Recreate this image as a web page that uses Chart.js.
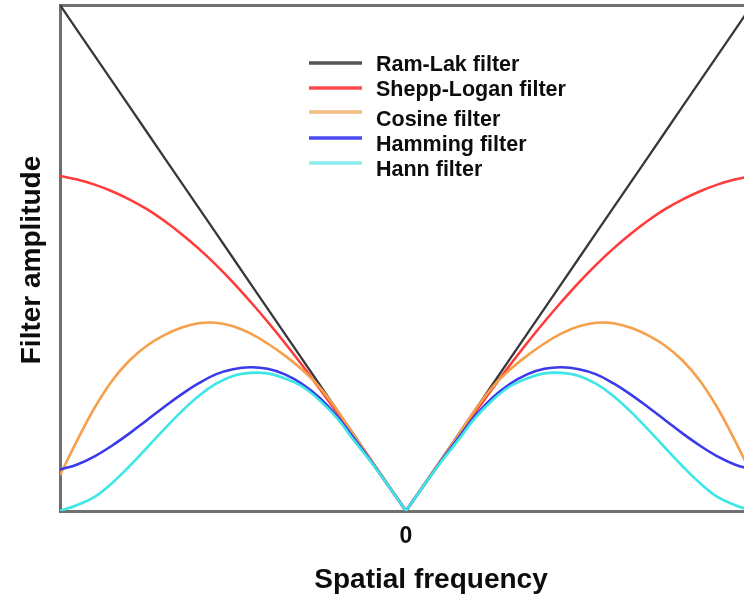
<!DOCTYPE html>
<html><head><meta charset="utf-8">
<script src="https://cdn.jsdelivr.net/npm/chart.js@4/dist/chart.umd.min.js"></script>
<style>
html,body{margin:0;padding:0;background:#fff;overflow:hidden;width:744px;height:601px}
#wrap{position:absolute;left:0;top:0;width:800px;height:601px}
canvas{display:block}
</style>
</head><body><div id="wrap"><canvas id="c" width="800" height="601" style="width:800px;height:601px"></canvas></div>
<script>
// ---- data ----
const frequencies = [-1.00,-0.95,-0.90,-0.85,-0.80,-0.75,-0.70,-0.65,-0.60,-0.55,-0.50,-0.45,-0.40,-0.35,-0.30,-0.25,-0.20,-0.15,-0.10,-0.05,
                     0.00,0.05,0.10,0.15,0.20,0.25,0.30,0.35,0.40,0.45,0.50,0.55,0.60,0.65,0.70,0.75,0.80,0.85,0.90,0.95,1.00];
const ramLak     = [1.000,0.950,0.900,0.850,0.800,0.750,0.700,0.650,0.600,0.550,0.500,0.450,0.400,0.350,0.300,0.250,0.200,0.150,0.100,0.050,
                    0.000,0.050,0.100,0.150,0.200,0.250,0.300,0.350,0.400,0.450,0.500,0.550,0.600,0.650,0.700,0.750,0.800,0.850,0.900,0.950,1.000];
const sheppLogan = [0.662,0.655,0.645,0.632,0.616,0.597,0.574,0.548,0.519,0.487,0.452,0.414,0.374,0.332,0.288,0.242,0.195,0.147,0.098,0.049,
                    0.000,0.049,0.098,0.147,0.195,0.242,0.288,0.332,0.374,0.414,0.452,0.487,0.519,0.548,0.574,0.597,0.616,0.632,0.645,0.655,0.662];
const cosine     = [0.071,0.140,0.204,0.257,0.297,0.326,0.347,0.362,0.371,0.372,0.365,0.351,0.331,0.307,0.279,0.245,0.200,0.149,0.099,0.050,
                    0.000,0.050,0.099,0.149,0.200,0.245,0.279,0.307,0.331,0.351,0.365,0.372,0.371,0.362,0.347,0.326,0.297,0.257,0.204,0.140,0.071];
const hamming    = [0.082,0.092,0.108,0.129,0.153,0.179,0.205,0.230,0.252,0.270,0.280,0.284,0.281,0.270,0.251,0.224,0.188,0.143,0.097,0.049,
                    0.000,0.049,0.097,0.143,0.188,0.224,0.251,0.270,0.281,0.284,0.280,0.270,0.252,0.230,0.205,0.179,0.153,0.129,0.108,0.092,0.082];
const hann       = [0.000,0.012,0.028,0.055,0.088,0.124,0.161,0.196,0.227,0.251,0.267,0.273,0.272,0.262,0.246,0.219,0.184,0.139,0.096,0.049,
                    0.000,0.049,0.096,0.139,0.184,0.219,0.246,0.262,0.272,0.273,0.267,0.251,0.227,0.196,0.161,0.124,0.088,0.055,0.028,0.012,0.000];
const seriesNames = ['Ram-Lak filter','Shepp-Logan filter','Cosine filter','Hamming filter','Hann filter'];
const xTickValues = [0];
const xTickLabels = ['0'];
const xTitle = 'Spatial frequency';
const yTitle = 'Filter amplitude';

// ---- styles ----
const seriesValues = [ramLak, sheppLogan, cosine, hamming, hann];
const lineColors   = ['#383838','#ff3c3c','#f7a04c','#3a3aea','#3ee6e6'];
const legendColors = ['#555555','#ff4a4a','#f5bd86','#4a4af0','#86eeee'];
const tensions     = [0, 0.4, 0.4, 0.4, 0.4];
const mid = frequencies.indexOf(0);

const datasets = [];
seriesValues.forEach((vals, i) => {
  const pts = frequencies.map((f, k) => ({x: f, y: vals[k]}));
  [pts.slice(0, mid + 1), pts.slice(mid)].forEach(half => {
    datasets.push({
      label: seriesNames[i],
      data: half,
      borderColor: lineColors[i],
      backgroundColor: lineColors[i],
      borderWidth: i === 0 ? 2.3 : 2.6,
      pointRadius: 0,
      tension: tensions[i],
      fill: false,
      order: seriesNames.length - 1 - i
    });
  });
});

const FONT = '"Liberation Sans", Arial, Helvetica, sans-serif';
const annot = {
  id: 'annot',
  afterDraw(chart) {
    const ctx = chart.ctx;
    ctx.save();
    const lineY = [63, 88, 112, 138, 163];
    const textY = [71, 96, 126, 151, 176];
    seriesNames.forEach((n, i) => {
      ctx.strokeStyle = legendColors[i];
      ctx.lineWidth = 3.5;
      ctx.beginPath(); ctx.moveTo(309, lineY[i]); ctx.lineTo(362, lineY[i]); ctx.stroke();
      ctx.fillStyle = '#0d0d0d';
      ctx.font = 'bold 21.5px ' + FONT;
      ctx.textAlign = 'left';
      ctx.textBaseline = 'alphabetic';
      ctx.fillText(n, 376, textY[i]);
    });
    ctx.font = 'bold 28px ' + FONT;
    ctx.textAlign = 'center';
    ctx.fillText(xTitle, 431, 588);
    ctx.translate(40, 260);
    ctx.rotate(-Math.PI / 2);
    ctx.fillText(yTitle, 0, 0);
    ctx.restore();
  }
};

new Chart(document.getElementById('c'), {
  type: 'line',
  data: {datasets},
  options: {
    responsive: false,
    animation: false,
    events: [],
    layout: {padding: {left: 0, right: 48, top: 0, bottom: 0}},
    plugins: {legend: {display: false}, tooltip: {enabled: false}},
    scales: {
      x: {
        type: 'linear', position: 'bottom', min: -1, max: 1,
        afterFit(s) { s.height = 90; },
        afterBuildTicks(s) { s.ticks = xTickValues.map(v => ({value: v})); },
        ticks: {
          callback: v => xTickLabels[xTickValues.indexOf(v)],
          font: {family: FONT, size: 23, weight: 'bold'},
          color: '#0d0d0d', padding: 12, maxRotation: 0, autoSkip: false
        },
        grid: {display: false, drawTicks: false},
        border: {display: true, color: '#6f6f6f', width: 3}
      },
      x2: {
        type: 'linear', position: 'top', min: -1, max: 1,
        afterFit(s) { s.height = 5; },
        ticks: {display: false},
        grid: {display: false, drawTicks: false},
        border: {display: true, color: '#6f6f6f', width: 3}
      },
      y: {
        type: 'linear', min: 0, max: 1,
        afterFit(s) { s.width = 60; },
        ticks: {display: false},
        grid: {display: false, drawTicks: false},
        border: {display: true, color: '#6f6f6f', width: 3}
      }
    }
  },
  plugins: [annot]
});
</script>
</body></html>
